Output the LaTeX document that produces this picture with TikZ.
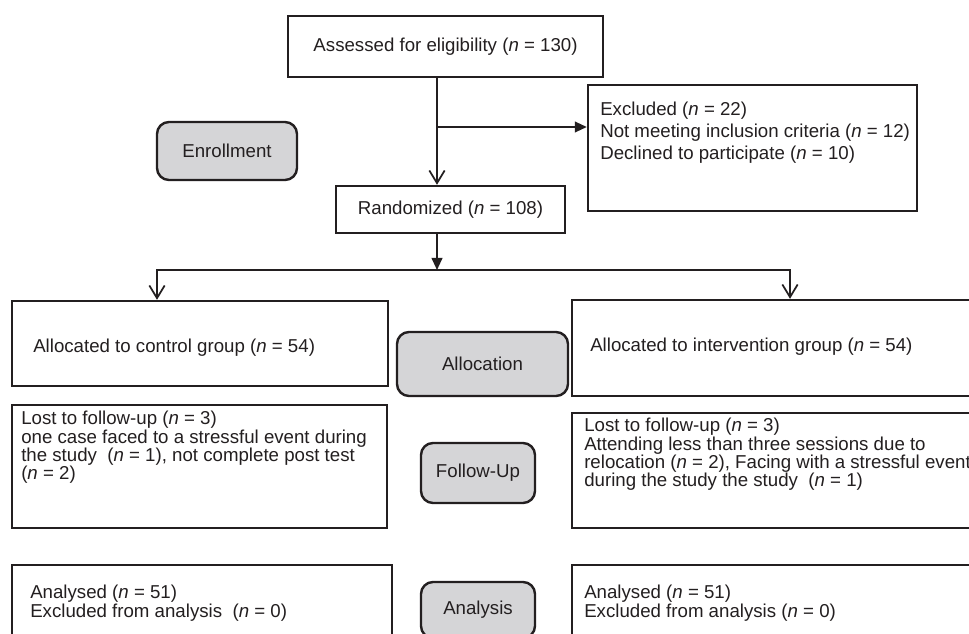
\documentclass[tikz,border=0pt]{standalone}
\usepackage{fontspec}
\setmainfont{Liberation Sans}
\usetikzlibrary{arrows.meta,calc}
\definecolor{ink}{RGB}{35,31,32}
\definecolor{phasegray}{RGB}{213,213,215}
\begin{document}
\begin{tikzpicture}[x=0.75pt,y=-0.75pt,
  every node/.style={text=ink},
  box/.style={draw=ink, line width=1.8pt, rectangle, inner sep=0pt, font=\fontsize{14}{16}\selectfont},
  phase/.style={draw=ink, line width=1.8pt, rounded corners=9pt, fill=phasegray, inner sep=0pt, font=\fontsize{14}{16}\selectfont},
  txt/.style={inner sep=0pt, anchor=north west, align=left, font=\fontsize{14}{13.7}\selectfont},
  txtwide/.style={txt, font=\fontsize{14}{16.5}\selectfont},
  conn/.style={draw=ink, line width=1.4pt},
  vhead/.style={-{Straight Barb[length=9.5pt,width=11.5pt,line width=1.3pt]}},
  fhead/.style={-{Triangle[length=9pt,width=8pt]}}
]
\clip (0,0) rectangle (969,634);
\fill[white] (0,0) rectangle (969,634);

% boxes
\node[box, minimum width=236.25pt, minimum height=45.75pt] (assess) at (445.5,46.5) {Assessed for eligibility (\textit{n} = 130)};
\node[box, minimum width=246.75pt, minimum height=94.5pt] (excl) at (752.5,148) {};
\node[txtwide] (exclT) at (600,102) {Excluded (\textit{n} = 22)\\Not meeting inclusion criteria (\textit{n} = 12)\\Declined to participate (\textit{n} = 10)};
\node[phase, minimum width=105pt, minimum height=43.5pt] (enroll) at (227,151) {Enrollment};
\node[box, minimum width=171.75pt, minimum height=35.25pt] (rand) at (450.5,209.5) {Randomized (\textit{n} = 108)};

\node[box, minimum width=282pt, minimum height=63.75pt] (ctrlA) at (200,343.5) {};
\node[txt, anchor=west] (ctrlAT) at (33,348) {Allocated to control group (\textit{n} = 54)};
\node[phase, minimum width=128.25pt, minimum height=48pt] (alloc) at (482.5,364) {Allocation};
\node[box, minimum width=313.5pt, minimum height=72pt] (intA) at (781,348) {};
\node[txt, anchor=west] (intAT) at (590,347) {Allocated to intervention group (\textit{n} = 54)};

\node[box, minimum width=281.25pt, minimum height=92.25pt] (ctrlL) at (199.5,466.5) {};
\node[txt] (ctrlLT) at (21,411) {Lost to follow-up (\textit{n} = 3)\\one case faced to a stressful event during\\the study\ \ (\textit{n} = 1), not complete post test\\(\textit{n} = 2)};
\node[phase, minimum width=85.5pt, minimum height=45pt] (follow) at (478,473) {Follow-Up};
\node[box, minimum width=313.5pt, minimum height=86.25pt] (intL) at (781,470.5) {};
\node[txt] (intLT) at (584,418) {Lost to follow-up (\textit{n} = 3)\\Attending less than three sessions due to\\relocation (\textit{n} = 2), Facing with a stressful event\\during the study the study\ \ (\textit{n} = 1)};

\node[box, minimum width=285pt, minimum height=71.25pt] (ctrlAn) at (202,612.5) {};
\node[txt] (ctrlAnT) at (30,585) {Analysed (\textit{n} = 51)\\Excluded from analysis\ \ (\textit{n} = 0)};
\node[phase, minimum width=85.5pt, minimum height=42pt] (analysis) at (478,610) {Analysis};
\node[box, minimum width=313.5pt, minimum height=71.25pt] (intAn) at (781,612.5) {};
\node[txt] (intAnT) at (584,585) {Analysed (\textit{n} = 51)\\Excluded from analysis (\textit{n} = 0)};

% connectors
\coordinate (j1) at (437,127);
\coordinate (j2) at (437,270);
\coordinate (jl) at (157,270);
\coordinate (jr) at (790,270);
\draw[conn, vhead] (assess.south -| j1) -- (rand.north -| j1);
\draw[conn, fhead] (j1) -- (j1 -| excl.west);
\draw[conn, fhead] (rand.south -| j2) -- (j2);
\draw[conn, vhead] (j2) -- (jl) -- (jl |- ctrlA.north);
\draw[conn, vhead] (j2) -- (jr) -- (jr |- intA.north);
\end{tikzpicture}
\end{document}
